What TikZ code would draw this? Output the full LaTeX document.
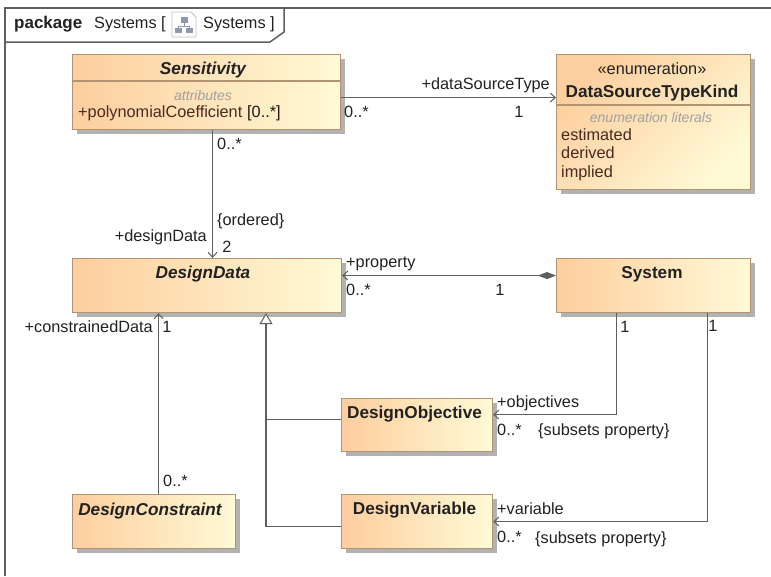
\documentclass[tikz,border=0pt]{standalone}
\usepackage{fontspec}
\setmainfont{Liberation Sans}
\usetikzlibrary{arrows.meta,shadows}
\definecolor{lineC}{HTML}{5F5F5F}
\definecolor{edgeC}{HTML}{B39472}
\definecolor{txtC}{HTML}{222222}
\definecolor{attrC}{HTML}{4A2A22}
\definecolor{grayC}{HTML}{A0A0A0}
\definecolor{boxL}{HTML}{FDCE9E}
\definecolor{boxR}{HTML}{FFFAD6}
\definecolor{iconC}{HTML}{8E97AC}
\tikzset{
  x=1pt,y=-1pt,
  box/.style={draw=edgeC,line width=1.1pt,anchor=north west,inner sep=0pt,
    left color=boxL,right color=boxR,
    general shadow={shadow xshift=4pt,shadow yshift=-4pt,fill=black!30}},
  lab/.style={font=\fontsize{16.3}{18}\selectfont,text=txtC,inner sep=0pt,text height=12pt,text depth=0.5pt},
  labw/.style={lab,anchor=west},
  labe/.style={lab,anchor=east},
  title/.style={lab,font=\fontsize{17.2}{19}\selectfont\bfseries},
  ititle/.style={title,font=\fontsize{17.2}{19}\selectfont\bfseries\itshape},
  comp/.style={lab,font=\fontsize{14}{15}\selectfont\itshape,text=grayC},
  attr/.style={labw,text=attrC},
  conn/.style={draw=lineC,line width=1.4pt},
  assoc/.style={conn,-{Straight Barb[length=5pt,width=9pt,line width=1pt]}},
  compo/.style={conn,{Diamond[length=18pt,width=7pt,fill=lineC]}-{Straight Barb[length=5pt,width=9pt,line width=1pt]}},
  gen/.style={conn,-{Triangle[open,length=11pt,width=13pt,fill=white,line width=1pt]}},
  frame/.style={draw=lineC,line width=1.5pt}
}
\begin{document}
\begin{tikzpicture}
\useasboundingbox[fill=white] (0,0) rectangle (771,576);
% frame
\draw[frame] (5,576) -- (5,8) -- (771,8);
\draw[frame] (5,42) -- (270,42) -- (284,32) -- (284,8);
\node[labw,font=\fontsize{17}{19}\selectfont\bfseries] (pk) at (14,23) {package};
\node[labw] (pn) at (94,23) {Systems [};
\node[labw] (pt) at (203,23) {Systems ]};
% icon
\draw[draw=black!25,fill=white,line width=.8pt] (172,12) -- (191,12) -- (196,17) -- (196,37) -- (172,37) -- cycle;
\fill[iconC] (181,17) rectangle (188,23);
\fill[iconC] (175,28) rectangle (182,33);
\fill[iconC] (186,28) rectangle (193,33);
\draw[iconC,line width=.8pt] (184.5,23) -- (184.5,26) (178.5,28) -- (178.5,26) -- (189.5,26) -- (189.5,28);
% boxes
\node[box,minimum width=268pt,minimum height=75pt] (sens) at (72,54) {};
\node[box,minimum width=194pt,minimum height=135pt,shading angle=45] (enum) at (556,54) {};
\node[box,minimum width=269pt,minimum height=54pt] (data) at (72,258) {};
\node[box,minimum width=194pt,minimum height=54pt] (sys) at (556,258) {};
\node[box,minimum width=151pt,minimum height=53pt] (obj) at (341,398) {};
\node[box,minimum width=151pt,minimum height=54pt] (var) at (341,494) {};
\node[box,minimum width=163pt,minimum height=54pt] (con) at (72,494) {};
% dividers
\draw[edgeC,line width=1.1pt] ([yshift=-27pt]sens.north west) -- ([yshift=-27pt]sens.north east);
\draw[edgeC,line width=1.1pt] ([yshift=-51pt]enum.north west) -- ([yshift=-51pt]enum.north east);
% box text
\node[ititle] (t1) at (203,69) {Sensitivity};
\node[comp] (t2) at (203,95) {attributes};
\node[attr] (t3) at (78,112) {+polynomialCoefficient};
\node[labw,text=black!50!attrC] (t4) at (247,112) {[0..*]};
\node[lab] (t5) at (652,69) {«enumeration»};
\node[title] (t6) at (652,92) {DataSourceTypeKind};
\node[comp] (t7) at (651,117) {enumeration literals};
\node[attr] (t8) at (561,135) {estimated};
\node[attr] (t9) at (561,153) {derived};
\node[attr] (t10) at (561,172) {implied};
\node[ititle] (t11) at (203,273) {DesignData};
\node[title] (t12) at (652,273) {System};
\node[title] (t13) at (414.5,413) {DesignObjective};
\node[title] (t14) at (414.5,509) {DesignVariable};
\node[ititle] (t15) at (150,510) {DesignConstraint};
% connectors
\draw[assoc] ([xshift=6pt]sens.south) -- ([xshift=5.5pt]data.north);
\draw[assoc] ([yshift=-5.5pt]sens.east) -- ([yshift=-5.5pt]sens.east -| enum.west);
\draw[compo] ([yshift=10pt]sys.west) -- ([yshift=10pt]sys.west -| data.east);
\draw[assoc] ([xshift=4.5pt]con.north) -- ([xshift=-48.5pt]data.south);
\draw[gen] ([yshift=-5pt]var.west) -- ++(-75,0) coordinate (junc) -- (junc |- data.south);
\draw[conn] ([yshift=5.5pt]obj.west) -- ([yshift=5.5pt]obj.west -| junc);
\draw[assoc] ([xshift=-37pt]sys.south) |- ([yshift=10.5pt]obj.east);
\draw[assoc] ([xshift=54pt]sys.south) |- (var.east);
% labels
\node[labe] (l1) at (550,84) {+dataSourceType};
\node[labw] (l2) at (344,112) {0..*};
\node[lab] (l3) at (519,112) {1};
\node[labw] (l4) at (217,144) {0..*};
\node[labw] (l5) at (217,220) {\{ordered\}};
\node[labe] (l6) at (207,236) {+designData};
\node[lab] (l7) at (227,247) {2};
\node[labw] (l8) at (346,262) {+property};
\node[labw] (l9) at (346,290) {0..*};
\node[lab] (l10) at (500,290) {1};
\node[labe] (l11) at (153,327) {+constrainedData};
\node[lab] (l12) at (167,327) {1};
\node[labw] (l13) at (163,481) {0..*};
\node[lab] (l14) at (625,327) {1};
\node[lab] (l15) at (713,326) {1};
\node[labw] (l16) at (497,402) {+objectives};
\node[labw] (l17) at (497,430) {0..*};
\node[labw] (l18) at (538,430) {\{subsets property\}};
\node[labw] (l19) at (497,509) {+variable};
\node[labw] (l20) at (497,537) {0..*};
\node[labw] (l21) at (535,538) {\{subsets property\}};
\end{tikzpicture}
\end{document}
